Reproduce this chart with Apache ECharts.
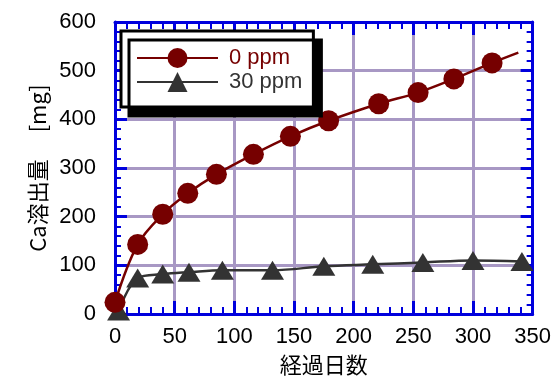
<!DOCTYPE html>
<html><head><meta charset="utf-8">
<script src="https://cdn.jsdelivr.net/npm/echarts@6/dist/echarts.min.js"></script>
<style>html,body{margin:0;padding:0;background:#fff}#c{width:554px;height:381px}</style>
</head><body><div id="c"></div>
<script>
// Data
const seriesNames = ['0 ppm', '30 ppm'];
const days0 = [0, 19, 40, 61, 85, 116, 147, 179, 221, 254, 284, 316, 338];
const ca0   = [24, 143, 205, 248, 287, 328, 365, 397, 432, 455, 483, 516, 537];
const days30 = [3, 19, 40, 62, 90, 132, 175, 216, 258, 300, 341];
const ca30   = [6, 74, 82, 86, 90, 90, 98, 102, 106, 110, 108];
const xTicks = [0, 50, 100, 150, 200, 250, 300, 350];
const yTicks = [0, 100, 200, 300, 400, 500, 600];

const red = '#760000', dark = '#333333', blue = '#0000dd', grid = '#a898c4';
const font = 'Liberation Sans, Arial, sans-serif';
const cjk = '"Noto Sans CJK JP", "Liberation Sans", sans-serif';

function pairs(xs, ys, lastNoSymbol) {
  return xs.map((x, i) => {
    const d = { value: [x, ys[i]] };
    if (lastNoSymbol && i === xs.length - 1) d.symbol = 'none';
    return d;
  });
}

function xAx(pos, main) {
  return {
    type: 'value', position: pos, min: xTicks[0], max: xTicks[xTicks.length - 1], interval: 50,
    axisLine: { show: true, onZero: false, lineStyle: { color: blue, width: 3 } },
    axisTick: { show: true, inside: true, length: 13, lineStyle: { color: blue, width: 3 } },
    minorTick: { show: true, splitNumber: 5, length: 7, lineStyle: { color: blue, width: 2 } },
    splitLine: { show: main, lineStyle: { color: grid, width: 3 } },
    axisLabel: { show: main, fontSize: 22, color: '#000', fontFamily: font, margin: 12 },
    name: main ? '経過日数' : '', nameLocation: 'middle', nameGap: 40,
    nameTextStyle: { fontSize: 22, color: '#000', fontFamily: cjk }
  };
}
function yAx(pos, main) {
  return {
    type: 'value', position: pos, min: yTicks[0], max: yTicks[yTicks.length - 1], interval: 100,
    axisLine: { show: true, onZero: false, lineStyle: { color: blue, width: 3 } },
    axisTick: { show: true, inside: true, length: 12, lineStyle: { color: blue, width: 3 } },
    minorTick: { show: true, splitNumber: 5, length: 6, lineStyle: { color: blue, width: 2 } },
    splitLine: { show: main, lineStyle: { color: grid, width: 3 } },
    axisLabel: { show: main, fontSize: 22, color: '#000', fontFamily: font, margin: 19 },
    name: main ? 'Ca溶出量　 [mg]' : '', nameLocation: 'middle', nameGap: 66, nameRotate: 90,
    nameTextStyle: { fontSize: 22, color: '#000', fontFamily: cjk }
  };
}

const chart = echarts.init(document.getElementById('c'), null, { renderer: 'canvas' });
chart.setOption({
  animation: false,
  backgroundColor: '#fff',
  grid: { left: 115, right: 15, top: 22, bottom: 66, containLabel: false },
  xAxis: [xAx('bottom', true), xAx('top', false)],
  yAxis: [yAx('left', true), yAx('right', false)],
  legend: {
    left: 121, top: 31, orient: 'vertical',
    itemWidth: 81, itemHeight: 25, itemGap: 2,
    padding: [16, 11, 14, 15],
    backgroundColor: '#fff', borderColor: '#000', borderWidth: 3, borderRadius: 0,
    shadowColor: '#000', shadowBlur: 0, shadowOffsetX: 8, shadowOffsetY: 9,
    textStyle: { fontSize: 22, fontFamily: font, padding: [0, 0, 0, 6] },
    data: [
      { name: seriesNames[0], textStyle: { color: red } },
      { name: seriesNames[1], textStyle: { color: dark } }
    ]
  },
  series: [
    {
      name: seriesNames[0], type: 'line', smooth: 0.35, data: pairs(days0, ca0, true),
      symbol: 'circle', symbolSize: 21, z: 3,
      lineStyle: { color: red, width: 2.5 }, itemStyle: { color: red }
    },
    {
      name: seriesNames[1], type: 'line', smooth: 0.35, data: pairs(days30, ca30, false),
      symbol: 'triangle', symbolSize: [23, 19], z: 2,
      lineStyle: { color: dark, width: 2.5 }, itemStyle: { color: dark }
    }
  ]
});
</script></body></html>
